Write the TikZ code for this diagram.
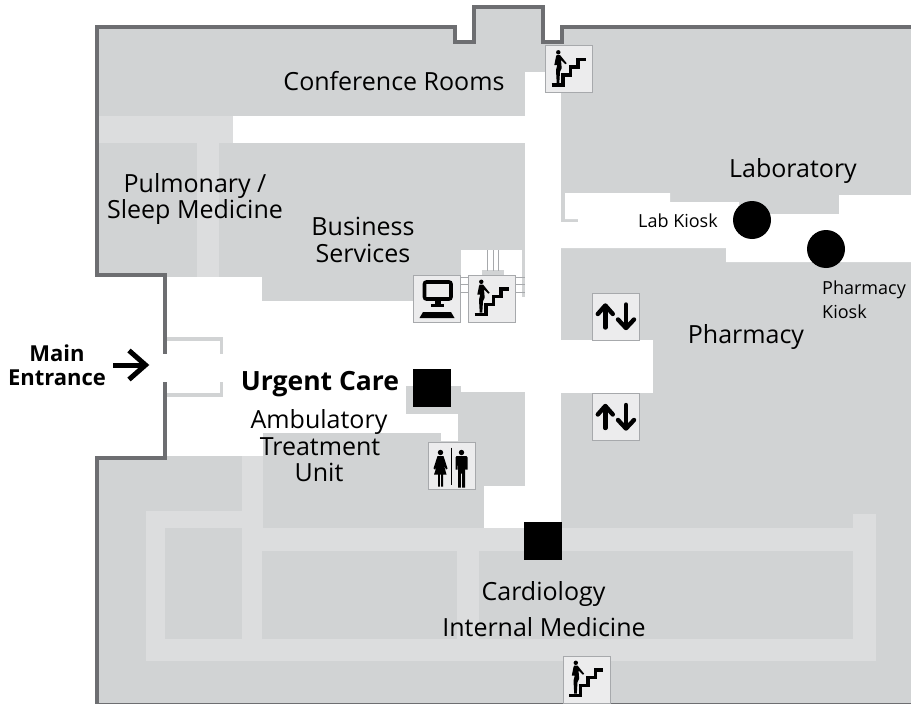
\documentclass[tikz,border=0pt]{standalone}
\usepackage{fontspec}
\setmainfont{Open Sans}
\definecolor{floorgray}{HTML}{D1D3D4}
\definecolor{halllight}{HTML}{DCDDDE}
\definecolor{wallgray}{HTML}{6D6E71}
\definecolor{iconfill}{HTML}{ECECED}
\definecolor{iconedge}{HTML}{A7A9AC}
\tikzset{
  wall/.style={draw=wallgray,line width=4.4pt,miter limit=10},
  floorarea/.style={fill=floorgray},
  hall/.style={fill=halllight},
  open/.style={fill=white},
  strip/.style={fill=floorgray},
  iconbox/.style={draw=iconedge,fill=iconfill,line width=1.2pt,minimum width=47pt,minimum height=47pt,inner sep=0pt,anchor=north west},
  marker/.style={fill=black,minimum size=38pt,inner sep=0pt,anchor=north west},
  kiosk/.style={circle,fill=black,minimum size=38pt,inner sep=0pt},
  big/.style={font=\fontsize{25}{29}\selectfont,text=black,inner sep=0pt},
  bigb/.style={font=\fontsize{26.5}{30}\selectfont\bfseries,text=black,inner sep=0pt},
  mid/.style={font=\fontsize{22}{26}\selectfont\bfseries,text=black,inner sep=0pt},
  small/.style={font=\fontsize{18}{22}\selectfont,text=black,inner sep=0pt},
  stairicon/.pic={
    \draw[line width=3.2pt,miter limit=10] (6.7,40) -- (18,40) -- (18,30) -- (25.5,30) -- (25.5,22) -- (33,22) -- (33,14.5) -- (40.8,14.5);
    \fill (13.3,7.3) circle (2.2);
    \fill (11.7,10) -- (15,10) -- (21.7,18.3) -- (20.3,19.2) -- (16,15) -- (16.7,23.3) -- (15,26.7) -- (14.3,38) -- (11.7,38) -- (11,25) -- (12.3,20) -- (9.3,20) -- (11,11.7) -- cycle;
  },
  lifticon/.pic={
    \draw[line width=4.4pt,line cap=round,line join=round] (13.3,35) -- (13.3,13.5);
    \draw[line width=4.4pt,line cap=round,line join=round] (5.8,21.5) -- (13.3,13) -- (20.8,21.5);
    \draw[line width=4.4pt,line cap=round,line join=round] (34,12) -- (34,35);
    \draw[line width=4.4pt,line cap=round,line join=round] (26,27) -- (34,35.5) -- (42,27);
  },
  resticon/.pic={
    \draw[line width=0.8pt] (23.7,6) -- (23.7,43);
    \fill (13,11) circle (2.7);
    \fill (10,14.5) -- (16,14.5) -- (20,27) -- (18.5,28) -- (16.5,24) -- (19,33) -- (15.5,33) -- (15.5,45) -- (13.6,45) -- (13.6,33) -- (12.4,33) -- (12.4,45) -- (10.5,45) -- (10.5,33) -- (6.5,33) -- (9.5,24) -- (7.5,28) -- (6,27) -- cycle;
    \fill (34,11) circle (2.7);
    \fill (29,14.5) -- (39,14.5) -- (40,16) -- (40,28) -- (38,28) -- (37.5,20) -- (37.5,46) -- (34.6,46) -- (34.6,32) -- (33.4,32) -- (33.4,46) -- (30.5,46) -- (30.5,20) -- (30,28) -- (28,28) -- (28,16) -- cycle;
  },
  pcicon/.pic={
    \draw[line width=3.6pt,rounded corners=2pt,fill=iconfill] (11.5,7.5) rectangle (38,24.5);
    \fill (21.5,26) rectangle (28,30);
    \fill (18,29) rectangle (31,32);
    \fill (6.5,43.5) -- (10,37.5) -- (38,37.5) -- (41.5,43.5) -- cycle;
  }
}
\begin{document}
\begin{tikzpicture}[x=1pt,y=-1pt]
\useasboundingbox (0,0) rectangle (911,704);
\clip (0,0) rectangle (911,704);
% floor
\path[floorarea] (911,27) -- (562,27) -- (562,42) -- (543,42) -- (543,7) -- (474,7) -- (474,42) -- (455,42) -- (455,27) -- (97,27) -- (97,275) -- (165,275) -- (165,458) -- (97,458) -- (97,704) -- (911,704) -- cycle;
% light corridors
\path[hall] (99,116) rectangle (233,143);
\path[hall] (197,143) rectangle (219,277);
\path[hall] (242,456) rectangle (263,528);
\path[hall] (146,511) rectangle (242,528);
\path[hall] (146,511) rectangle (165,661);
\path[hall] (146,639) rectangle (876,661);
\path[hall] (242,528) rectangle (876,551);
\path[hall] (242,528) rectangle (262,661);
\path[hall] (457,551) rectangle (479,639);
\path[hall] (853,514) rectangle (876,661);
% open circulation
\path[open] (525,72) rectangle (561,528);
\path[open] (233,116) rectangle (525,143);
\path[open] (165,277) rectangle (262,414);
\path[open] (262,301) rectangle (525,386);
\path[open] (262,386) rectangle (406,414);
\path[open] (461,386) rectangle (525,392);
\path[open] (461,250) rectangle (522,301);
\path[open] (522,297) rectangle (525,301);
\path[open] (165,414) rectangle (263,456);
\path[open] (263,414) rectangle (441,433);
\path[open] (441,414) rectangle (458,441);
\path[open] (484,486) rectangle (525,528);
\path[open] (561,340) rectangle (653,393);
\path[open] (565,193) -- (670,193) -- (670,202) -- (739,202) -- (739,214) -- (839,214) -- (839,195) -- (911,195) -- (911,262) -- (726,262) -- (726,248) -- (561,248) -- (561,222) -- (578,222) -- (578,219) -- (565,219) -- cycle;
\path[open] (160,354) rectangle (170,382);
% wall
\draw[wall] (915,27) -- (562,27) -- (562,42) -- (543,42) -- (543,7) -- (474,7) -- (474,42) -- (455,42) -- (455,27) -- (97,27) -- (97,275) -- (165,275) -- (165,354);
\draw[wall] (165,382) -- (165,458) -- (97,458) -- (97,705.5) -- (915,705.5);
% entrance strips
\path[strip] (167,337) rectangle (223,341);
\path[strip] (220,337) rectangle (223,354);
\path[strip] (167,393) rectangle (223,397);
\path[strip] (220,382) rectangle (223,397);
% escalator lines
\path[strip] (482,270) rectangle (504,275);
\foreach \lx in {487.5,493,498.5} {\draw[iconedge,line width=1pt] (\lx,250) -- (\lx,271);}
\foreach \ly in {277,284,292} {
  \draw[iconedge,line width=1pt] (461,\ly) -- (468,\ly);
  \draw[iconedge,line width=1pt] (515,\ly) -- (525,\ly);
}
% icons
\node[iconbox] (stairsTop) at (545,45) {};
\pic at (stairsTop.north west) {stairicon};
\node[iconbox] (computer) at (413,274.5) {};
\pic at (computer.north west) {pcicon};
\node[iconbox] (stairsMid) at (468,274.5) {};
\pic at (stairsMid.north west) {stairicon};
\node[iconbox] (liftA) at (592,292.5) {};
\pic at (liftA.north west) {lifticon};
\node[iconbox] (liftB) at (592,393) {};
\pic at (liftB.north west) {lifticon};
\node[iconbox] (rest) at (427.5,441.5) {};
\pic at (rest.north west) {resticon};
\node[iconbox] (stairsLow) at (562.5,655.5) {};
\pic at (stairsLow.north west) {stairicon};
% markers
\node[marker] (urgentMark) at (413,369) {};
\node[marker] (cardioMark) at (524,522) {};
\node[kiosk] (labKioskDot) at (752,220) {};
\node[kiosk] (pharmKioskDot) at (826,249) {};
% entrance arrow
\coordinate (arrowStart) at (113,365);
\coordinate (arrowTip) at (146,365);
\draw[line width=5pt] (arrowStart) -- (arrowTip);
\draw[line width=5pt,miter limit=10] (129,350.5) -- (145.5,365) -- (129,379.5);
% labels
\node[big] (conf) at (394,81) {Conference Rooms};
\node[big] (lab) at (793,171) {Laboratory};
\node[big] (pulm) at (195,186.5) {Pulmonary /};
\node[big] (sleep) at (195,212) {Sleep Medicine};
\node[big] (bus) at (363,226) {Business};
\node[big] (serv) at (363,253) {Services};
\node[small] (labk) at (678,221) {Lab Kiosk};
\node[small,anchor=west] (phk) at (822,290) {Pharmacy};
\node[small,anchor=west] (kio) at (822,312) {Kiosk};
\node[big] (pharm) at (746,337) {Pharmacy};
\node[mid] (mainl) at (57,353) {Main};
\node[mid] (entr) at (57,378) {Entrance};
\node[bigb] (urg) at (320,384) {Urgent Care};
\node[big] (amb) at (319,422) {Ambulatory};
\node[big] (treat) at (320,447) {Treatment};
\node[big] (unit) at (319,472) {Unit};
\node[big] (card) at (543.5,594) {Cardiology};
\node[big] (intm) at (544,627) {Internal Medicine};
\end{tikzpicture}
\end{document}
